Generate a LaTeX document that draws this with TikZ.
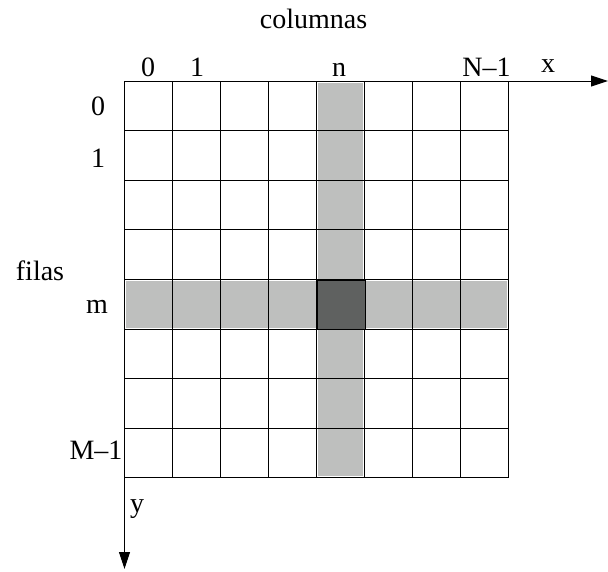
\documentclass[tikz,border=0pt]{standalone}
\usepackage{fontspec}
\setmainfont{Liberation Serif}
\usetikzlibrary{arrows.meta}
\definecolor{bandcolor}{RGB}{190, 191, 190}
\definecolor{cellcolor}{RGB}{95, 97, 96}
\definecolor{linecolor}{RGB}{0, 0, 0}
\tikzset{
axistext/.style={
  anchor=base,
  inner sep=0pt,
  font=\fontsize{28}{32}\selectfont,
  text=black
},
gridline/.style={
  draw=linecolor,
  line width=0.9pt
},
band/.style={
  fill=bandcolor,
  draw=white,
  line width=0.9pt
},
axis/.style={
  -{Triangle[length=17pt,width=11pt]},
  line width=1pt,
  draw=linecolor
}
}

\begin{document}
\begin{tikzpicture}[x=1pt,y=-1pt]
  \useasboundingbox (0,0) rectangle (608,571);

  % shaded column n and row m
  \draw[band] (317.5,82) rectangle (363.5,476.8);
  \draw[band] (125.5,280.4) rectangle (507.5,328);

  % grid 8x8
  \foreach \i in {1,...,8}
    \draw[gridline] ({124.5+48*\i},81) -- ({124.5+48*\i},477.8);
  \foreach \j in {1,...,8}
    \draw[gridline] (124.5,{81+49.6*\j}) -- (508.5,{81+49.6*\j});

  \node[draw=linecolor, fill=cellcolor, line width=1.2pt,
        minimum width=48pt, minimum height=49.6pt, inner sep=0pt,
        anchor=north west] (cell) at (316.5,279.4) {};

  % axes
  \coordinate (origin) at (124.5,81);
  \coordinate (xend) at (608,81);
  \coordinate (yend) at (124.5,569);
  \draw[axis] (origin) -- (xend);
  \draw[axis] (origin) -- (yend);

  \node[axistext] (cols) at (313.5,28) {columnas};
  \node[axistext] (c0) at (148,76) {0};
  \node[axistext] (c1) at (197,76) {1};
  \node[axistext] (cn) at (339,76) {n};
  \node[axistext] (cN) at (486.5,76) {N–1};
  \node[axistext] (xlab) at (548,72) {x};

  \node[axistext] (r0) at (98,115) {0};
  \node[axistext] (r1) at (98,167) {1};
  \node[axistext] (rows) at (40,280) {filas};
  \node[axistext] (rm) at (97,313) {m};
  \node[axistext] (rM) at (96,459) {M–1};
  \node[axistext] (ylab) at (137,512) {y};
\end{tikzpicture}
\end{document}
